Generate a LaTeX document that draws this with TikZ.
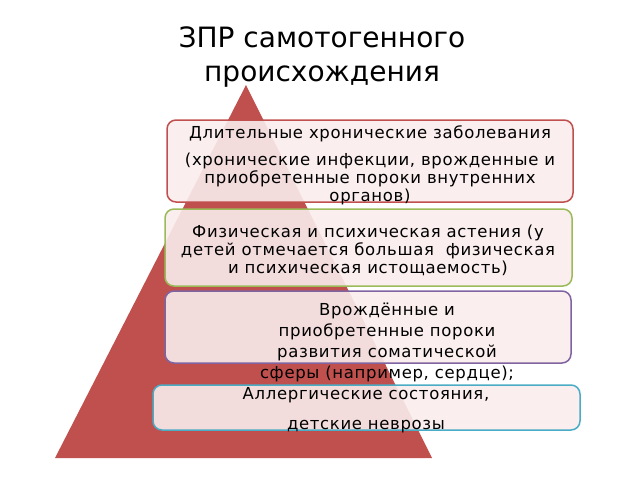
\documentclass[tikz,border=0pt]{standalone}
\usepackage{fontspec}
\setmainfont{DejaVu Sans}
\definecolor{pyrred}{HTML}{C0504D}
\definecolor{boxgreen}{HTML}{9BBB59}
\definecolor{boxpurple}{HTML}{8064A2}
\definecolor{boxblue}{HTML}{4BACC6}
\definecolor{boxfill}{HTML}{F9ECEC}

\begin{document}
\begin{tikzpicture}[x=1pt, y=-1pt,
  layer/.style={line width=1.5pt, rounded corners=9pt, fill=boxfill, fill opacity=0.9},
  txt/.style={font=\fontsize{16.5}{18}\selectfont\addfontfeature{LetterSpace=4}, align=center, inner sep=0pt}]
\useasboundingbox (0,0) rectangle (640,480);
% pyramid
\fill[pyrred] (246,85) -- (432,458) -- (55,458) -- cycle;
% title
\node[font=\fontsize{28}{34}\selectfont, align=center] (title) at (322,57) {ЗПР самотогенного\\происхождения};
% layers
\draw[layer, draw=pyrred] (167,120) rectangle (573,202);
\draw[layer, draw=boxgreen] (165,209) rectangle (572,286);
\draw[layer, draw=boxpurple] (165,291) rectangle (571,363);
\draw[layer, draw=boxblue] (153,385) rectangle (580,430);
% texts
\node[txt] (chron) at (370,134) {Длительные хронические заболевания};
\node[txt] (chronex) at (370,178.5) {(хронические инфекции, врожденные и\\приобретенные пороки внутренних\\органов)};
\node[txt] (asth) at (368,250) {Физическая и психическая астения (у\\детей отмечается большая\ \ физическая\\и психическая истощаемость)};
\node[txt, font=\fontsize{16.5}{21}\selectfont\addfontfeature{LetterSpace=4}] (vrozh) at (387,342) {Врождённые и\\приобретенные пороки\\развития соматической\\сферы (например, сердце);};
\node[txt, font=\fontsize{16.5}{30}\selectfont\addfontfeature{LetterSpace=4}] (allerg) at (366,410) {Аллергические состояния,\\детские неврозы};
\end{tikzpicture}
\end{document}
